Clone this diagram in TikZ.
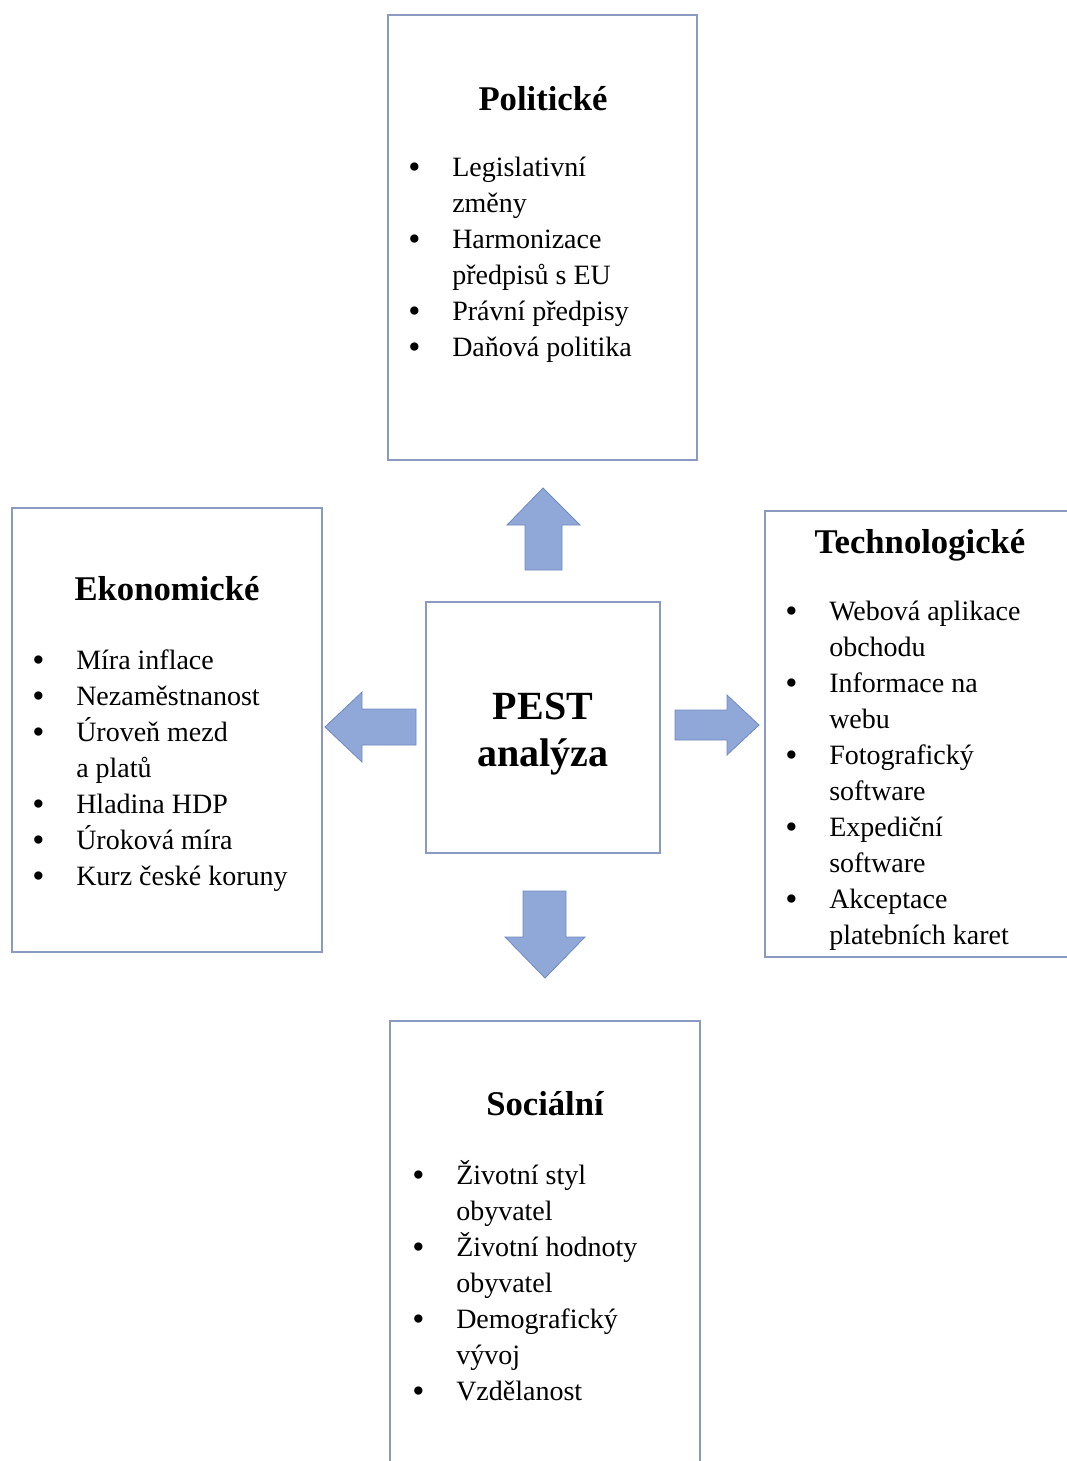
\documentclass[tikz,border=0pt]{standalone}
\usepackage{fontspec}
\setmainfont{Liberation Serif}

\definecolor{boxline}{RGB}{138,154,192}
\definecolor{arrowfill}{RGB}{143,168,216}
\definecolor{arrowline}{RGB}{112,138,192}

\tikzset{
  panel/.style={draw=boxline, line width=1.5pt},
  blockarrow/.style={fill=arrowfill, draw=arrowline, line width=0.6pt},
  heading/.style={font=\fontsize{26}{30}\selectfont\bfseries, anchor=base, inner sep=0pt},
  items/.style={font=\fontsize{21}{27}\selectfont, anchor=base west, inner sep=0pt},
}
\newcommand{\itemlist}[1]{\begin{tabular}[t]{@{}p{33pt}@{}l@{}}#1\end{tabular}}
\newcommand{\bul}{\smash{\raisebox{-2pt}{\fontsize{26}{27}\selectfont\textbullet}}}

\begin{document}
\begin{tikzpicture}[x=0.75pt,y=-0.75pt]
            \useasboundingbox (0,0) rectangle (1067,1461);
            % boxes
            \draw[panel] (388,15) rectangle (697,460);
            \draw[panel] (12,508) rectangle (322,952);
            \draw[panel] (426,602) rectangle (660,853);
            \draw[panel] (765,511) rectangle (1075,957);
            \draw[panel] (390,1021) rectangle (700,1475);
            % block arrows
            \draw[blockarrow] (525,570) -- (525,525) -- (507,525) -- (543,488) -- (580,525) -- (562,525) -- (562,570) -- cycle;
            \draw[blockarrow] (416,709) -- (362,709) -- (362,692) -- (325,727) -- (362,762) -- (362,745) -- (416,745) -- cycle;
            \draw[blockarrow] (675,710) -- (727,710) -- (727,695) -- (759,725) -- (727,755) -- (727,740) -- (675,740) -- cycle;
            \draw[blockarrow] (523,891) -- (566,891) -- (566,937) -- (585,937) -- (545,978) -- (505,937) -- (523,937) -- cycle;
            % centre
            \node[font=\fontsize{30}{35}\selectfont\bfseries, align=center] (pest) at (543,734) {PEST\\analýza};
            % politicke
            \node[heading] (polTitle) at (543,110) {Politické};
            \node[items] (polList) at (408,176) {\itemlist{\bul & Legislativní\\ & změny\\ \bul & Harmonizace\\ & předpisů s EU\\ \bul & Právní předpisy\\ \bul & Daňová politika}};
            % ekonomicke
            \node[heading] (ekoTitle) at (167,600) {Ekonomické};
            \node[items] (ekoList) at (32,669) {\itemlist{\bul & Míra inflace\\ \bul & Nezaměstnanost\\ \bul & Úroveň mezd\\ & a platů\\ \bul & Hladina HDP\\ \bul & Úroková míra\\ \bul & Kurz české koruny}};
            % technologicke
            \node[heading] (techTitle) at (920,553) {Technologické};
            \node[items] (techList) at (785,620) {\itemlist{\bul & Webová aplikace\\ & obchodu\\ \bul & Informace na\\ & webu\\ \bul & Fotografický\\ & software\\ \bul & Expediční\\ & software\\ \bul & Akceptace\\ & platebních karet}};
            % socialni
            \node[heading] (socTitle) at (545,1115) {Sociální};
            \node[items] (socList) at (412,1184) {\itemlist{\bul & Životní styl\\ & obyvatel\\ \bul & Životní hodnoty\\ & obyvatel\\ \bul & Demografický\\ & vývoj\\ \bul & Vzdělanost}};
        \end{tikzpicture}
\end{document}
